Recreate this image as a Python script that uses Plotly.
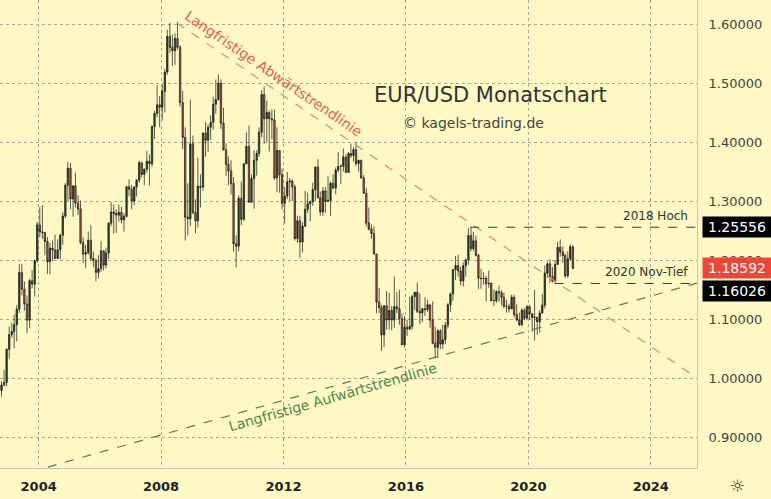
import plotly.graph_objects as go
import pandas as pd

# ---------------- data (monthly EUR/USD, Oct 2002 - Jun 2021) ----------------
start_month = "2002-10-01"
first_open = 0.9790

close = [
    0.9880, 0.9925, 1.0487,
    1.0735, 1.0790, 1.0905, 1.1165, 1.1790, 1.1505, 1.1255, 1.0980, 1.1650, 1.1590, 1.1990, 1.2595,
    1.2475, 1.2470, 1.2315, 1.1970, 1.2200, 1.2170, 1.2025, 1.2175, 1.2420, 1.2745, 1.3265, 1.3555,
    1.3035, 1.3255, 1.2965, 1.2865, 1.2295, 1.2100, 1.2125, 1.2335, 1.2025, 1.1990, 1.1790, 1.1850,
    1.2155, 1.1915, 1.2120, 1.2625, 1.2815, 1.2790, 1.2760, 1.2810, 1.2680, 1.2740, 1.3240, 1.3200,
    1.3000, 1.3240, 1.3355, 1.3650, 1.3450, 1.3540, 1.3675, 1.3630, 1.4265, 1.4485, 1.4630, 1.4590,
    1.4860, 1.5185, 1.5790, 1.5605, 1.5545, 1.5755, 1.5605, 1.4670, 1.4080, 1.2725, 1.2700, 1.3970,
    1.2805, 1.2665, 1.3250, 1.3235, 1.4150, 1.4030, 1.4250, 1.4335, 1.4640, 1.4720, 1.5000, 1.4320,
    1.3865, 1.3620, 1.3510, 1.3295, 1.2275, 1.2235, 1.3045, 1.2690, 1.3630, 1.3925, 1.2980, 1.3380,
    1.3690, 1.3805, 1.4165, 1.4805, 1.4395, 1.4500, 1.4395, 1.4375, 1.3390, 1.3855, 1.3445, 1.2960,
    1.3085, 1.3325, 1.3340, 1.3240, 1.2365, 1.2665, 1.2305, 1.2575, 1.2860, 1.2955, 1.2990, 1.3190,
    1.3575, 1.3055, 1.2815, 1.3170, 1.2995, 1.3010, 1.3300, 1.3220, 1.3525, 1.3585, 1.3590, 1.3745,
    1.3485, 1.3805, 1.3770, 1.3870, 1.3635, 1.3690, 1.3390, 1.3130, 1.2630, 1.2525, 1.2450, 1.2100,
    1.1290, 1.1195, 1.0730, 1.1225, 1.0985, 1.1145, 1.0985, 1.1210, 1.1175, 1.1005, 1.0565, 1.0860,
    1.0830, 1.0875, 1.1380, 1.1455, 1.1130, 1.1105, 1.1175, 1.1160, 1.1240, 1.0980, 1.0590, 1.0520,
    1.0800, 1.0575, 1.0650, 1.0895, 1.1240, 1.1425, 1.1840, 1.1905, 1.1815, 1.1645, 1.1905, 1.2005,
    1.2415, 1.2195, 1.2325, 1.2080, 1.1690, 1.1685, 1.1690, 1.1600, 1.1605, 1.1310, 1.1315, 1.1465,
    1.1445, 1.1370, 1.1215, 1.1215, 1.1170, 1.1370, 1.1075, 1.0985, 1.0900, 1.1150, 1.1015, 1.1210,
    1.1090, 1.1025, 1.1030, 1.0955, 1.1100, 1.1235, 1.1780, 1.1935, 1.1720, 1.1645, 1.1925, 1.2215,
    1.2135, 1.2075, 1.1730, 1.2020, 1.2225, 1.18592,
]
high = [
    0.9945, 1.0140, 1.0500,
    1.0875, 1.0935, 1.1080, 1.1240, 1.1930, 1.1935, 1.1640, 1.1400, 1.1680, 1.1830, 1.2005, 1.2645,
    1.2900, 1.2930, 1.2470, 1.2390, 1.2290, 1.2330, 1.2430, 1.2350, 1.2440, 1.2815, 1.3305, 1.3667,
    1.3645, 1.3270, 1.3480, 1.3095, 1.3010, 1.2390, 1.2260, 1.2480, 1.2590, 1.2140, 1.2030, 1.2080,
    1.2320, 1.2170, 1.2210, 1.2640, 1.2980, 1.2940, 1.2860, 1.2940, 1.2900, 1.2790, 1.3260, 1.3370,
    1.3270, 1.3240, 1.3370, 1.3680, 1.3650, 1.3550, 1.3850, 1.3790, 1.4280, 1.4530, 1.4965, 1.4780,
    1.4970, 1.5240, 1.5905, 1.6020, 1.5820, 1.5840, 1.6038, 1.5640, 1.4870, 1.4250, 1.3300, 1.4720,
    1.4110, 1.3030, 1.3740, 1.3450, 1.4170, 1.4340, 1.4300, 1.4450, 1.4770, 1.5060, 1.5145, 1.5060,
    1.4580, 1.3980, 1.3750, 1.3690, 1.3400, 1.2420, 1.3100, 1.3330, 1.3640, 1.4160, 1.4280, 1.3450,
    1.3860, 1.3860, 1.4250, 1.4880, 1.4940, 1.4700, 1.4530, 1.4550, 1.4550, 1.4250, 1.3860, 1.3550,
    1.3230, 1.3490, 1.3390, 1.3370, 1.3280, 1.2750, 1.2750, 1.2640, 1.3170, 1.3140, 1.3010, 1.3310,
    1.3590, 1.3710, 1.3160, 1.3240, 1.3240, 1.3420, 1.3330, 1.3450, 1.3570, 1.3830, 1.3620, 1.3890,
    1.3790, 1.3830, 1.3970, 1.3910, 1.3995, 1.3700, 1.3700, 1.3440, 1.3220, 1.2890, 1.2600, 1.2570,
    1.2110, 1.1530, 1.1240, 1.1210, 1.1470, 1.1440, 1.1220, 1.1715, 1.1460, 1.1500, 1.1100, 1.1050,
    1.0990, 1.1380, 1.1410, 1.1460, 1.1620, 1.1430, 1.1180, 1.1370, 1.1330, 1.1250, 1.1300, 1.0870,
    1.0830, 1.0830, 1.0900, 1.0950, 1.1270, 1.1450, 1.1850, 1.2070, 1.2090, 1.1880, 1.1960, 1.2020,
    1.2535, 1.25556, 1.2480, 1.2415, 1.2100, 1.1850, 1.1790, 1.1730, 1.1820, 1.1620, 1.1500, 1.1490,
    1.1570, 1.1490, 1.1450, 1.1320, 1.1260, 1.1410, 1.1410, 1.1250, 1.1110, 1.1180, 1.1180, 1.1240,
    1.1240, 1.1050, 1.1495, 1.1020, 1.1150, 1.1420, 1.1910, 1.1965, 1.2010, 1.1880, 1.2000, 1.2310,
    1.2350, 1.2240, 1.2110, 1.2150, 1.2265, 1.2250,
]
low = [
    0.9685, 0.9860, 0.9860,
    1.0330, 1.0685, 1.0500, 1.0620, 1.1100, 1.1400, 1.1140, 1.0760, 1.0845, 1.1520, 1.1380, 1.1950,
    1.2385, 1.2360, 1.2085, 1.1760, 1.1760, 1.1980, 1.2020, 1.2030, 1.2015, 1.2260, 1.2710, 1.3005,
    1.2860, 1.2730, 1.2890, 1.2760, 1.2265, 1.1950, 1.1870, 1.2090, 1.1990, 1.1880, 1.1640, 1.1690,
    1.1800, 1.1820, 1.1860, 1.2020, 1.2570, 1.2450, 1.2460, 1.2650, 1.2620, 1.2480, 1.2720, 1.3080,
    1.2860, 1.2930, 1.3080, 1.3310, 1.3400, 1.3270, 1.3480, 1.3260, 1.3580, 1.4050, 1.4420, 1.4250,
    1.4370, 1.4500, 1.5140, 1.5510, 1.5290, 1.5310, 1.5570, 1.4600, 1.3880, 1.2330, 1.2420, 1.2580,
    1.2770, 1.2455, 1.2550, 1.2890, 1.3170, 1.3750, 1.3830, 1.4040, 1.4210, 1.4480, 1.4700, 1.4220,
    1.3860, 1.3430, 1.3270, 1.3110, 1.2140, 1.1875, 1.2150, 1.2590, 1.2660, 1.3700, 1.2970, 1.3000,
    1.2870, 1.3430, 1.3750, 1.4080, 1.3970, 1.4000, 1.3840, 1.4050, 1.3360, 1.3150, 1.3140, 1.2860,
    1.2620, 1.3030, 1.3000, 1.3000, 1.2330, 1.2290, 1.2040, 1.2130, 1.2560, 1.2800, 1.2660, 1.2920,
    1.3000, 1.3040, 1.2750, 1.2750, 1.2800, 1.2980, 1.2750, 1.3200, 1.3110, 1.3480, 1.3290, 1.3500,
    1.3480, 1.3480, 1.3730, 1.3670, 1.3590, 1.3500, 1.3380, 1.3130, 1.2570, 1.2500, 1.2360, 1.2100,
    1.1100, 1.1100, 1.0460, 1.0520, 1.0820, 1.0820, 1.0810, 1.0850, 1.1100, 1.0900, 1.0560, 1.0520,
    1.0710, 1.0810, 1.0820, 1.1150, 1.1100, 1.0910, 1.0950, 1.1050, 1.1120, 1.0850, 1.0570, 1.0340,
    1.0340, 1.0490, 1.0490, 1.0570, 1.0840, 1.1120, 1.1310, 1.1660, 1.1720, 1.1570, 1.1550, 1.1720,
    1.1920, 1.2150, 1.2150, 1.2060, 1.1510, 1.1510, 1.1580, 1.1300, 1.1530, 1.1300, 1.1220, 1.1270,
    1.1290, 1.1230, 1.1180, 1.1110, 1.1110, 1.1180, 1.1030, 1.0960, 1.0880, 1.0880, 1.0980, 1.0980,
    1.0990, 1.0780, 1.0635, 1.0730, 1.0770, 1.1100, 1.1180, 1.1700, 1.1610, 1.1620, 1.16026, 1.1920,
    1.2060, 1.1950, 1.1700, 1.1700, 1.1990, 1.1845,
]
# forex monthly open = previous month's close
open_ = [first_open] + close[:-1]
dates = pd.date_range(start_month, periods=len(close), freq="MS") + pd.Timedelta(days=14)

# trend lines and levels
down_trend_x = ["2008-07-05", "2025-07-05"]
down_trend_y = [1.6020, 1.0000]
up_trend_x = ["2004-04-20", "2025-07-05"]
up_trend_y = [0.8490, 1.1610]
high_2018_x = ["2018-02-05", "2025-07-05"]
high_2018 = 1.25556
low_2020_x = ["2020-11-10", "2025-07-05"]
low_2020 = 1.16026
last_price = 1.18592

x_range = ["2002-09-27", "2025-07-05"]
y_range = [0.8475, 1.6407]
y_ticks = [0.9, 1.0, 1.1, 1.2, 1.3, 1.4, 1.5, 1.6]

BG = "#fdf8c4"
FONT = "DejaVu Sans"

fig = go.Figure()
fig.add_trace(go.Candlestick(
    x=dates, open=open_, high=high, low=low, close=close,
    increasing=dict(line=dict(color="#141414", width=0.7), fillcolor="#24502a"),
    decreasing=dict(line=dict(color="#141414", width=0.7), fillcolor="#c0584c"),
    whiskerwidth=0, showlegend=False, hoverinfo="skip",
))
fig.add_trace(go.Scatter(x=down_trend_x, y=down_trend_y, mode="lines",
                         line=dict(color="#e58473", width=1.2, dash="dash"),
                         showlegend=False, hoverinfo="skip"))
fig.add_trace(go.Scatter(x=up_trend_x, y=up_trend_y, mode="lines",
                         line=dict(color="#5c7f4e", width=1.2, dash="dash"),
                         showlegend=False, hoverinfo="skip"))
fig.add_trace(go.Scatter(x=high_2018_x, y=[high_2018, high_2018], mode="lines",
                         line=dict(color="#3a3a3a", width=1, dash="dash"),
                         showlegend=False, hoverinfo="skip"))
fig.add_trace(go.Scatter(x=low_2020_x, y=[low_2020, low_2020], mode="lines",
                         line=dict(color="#3a3a3a", width=1, dash="dash"),
                         showlegend=False, hoverinfo="skip"))

annotations = [
    dict(text="EUR/USD Monatschart", xref="paper", yref="paper", x=0.7044, y=0.797,
         xanchor="center", yanchor="middle",
         showarrow=False, font=dict(family=FONT, size=21, color="#333333")),
    dict(text="© kagels-trading.de", xref="paper", yref="paper", x=0.680, y=0.737,
         xanchor="center", yanchor="middle",
         showarrow=False, font=dict(family=FONT, size=14, color="#444444")),
    dict(text="Langfristige Abwärtstrendlinie", x="2011-09-09", y=1.515, textangle=34.3,
         xanchor="center", yanchor="middle",
         showarrow=False, font=dict(family=FONT, size=14, color="#e0624f")),
    dict(text="Langfristige Aufwärtstrendlinie", x="2013-08-15", y=0.968, textangle=-16,
         xanchor="center", yanchor="middle",
         showarrow=False, font=dict(family=FONT, size=14, color="#4f8a3f")),
    dict(text="2018 Hoch", xref="paper", x=0.99, y=high_2018, xanchor="right", yanchor="bottom",
         yshift=2, showarrow=False, font=dict(family=FONT, size=12, color="#333333")),
    dict(text="2020 Nov-Tief", xref="paper", x=0.99, y=low_2020, xanchor="right", yanchor="bottom",
         yshift=2, showarrow=False, font=dict(family=FONT, size=12, color="#333333")),
    dict(text=f"{high_2018:.5f}", xref="paper", x=1.0, y=high_2018, xanchor="left", xshift=5,
         showarrow=False, bgcolor="#000000", width=66, height=18, borderpad=1,
         font=dict(family=FONT, size=14, color="#ffffff")),
    dict(text=f"{last_price:.5f}", xref="paper", x=1.0, y=last_price, xanchor="left", xshift=5,
         showarrow=False, bgcolor="#f0463a", width=66, height=18, borderpad=1,
         font=dict(family=FONT, size=14, color="#ffffff")),
    dict(text=f"{low_2020:.5f}", xref="paper", x=1.0, y=low_2020, xanchor="left", xshift=5,
         yshift=-8, showarrow=False, bgcolor="#000000", width=66, height=18, borderpad=1,
         font=dict(family=FONT, size=14, color="#ffffff")),
    dict(text="☼", xref="paper", yref="paper", x=1.0588, y=-0.0385, showarrow=False,
         xanchor="center", yanchor="middle",
         font=dict(family=FONT, size=17, color="#333333")),
]

fig.update_layout(
    width=771, height=499,
    margin=dict(l=0, r=74, t=0, b=31),
    paper_bgcolor=BG, plot_bgcolor=BG,
    showlegend=False,
    boxgap=0.15,
    annotations=annotations,
    xaxis=dict(
        type="date", range=x_range, rangeslider=dict(visible=False),
        tick0="2004-01-01", dtick="M48", tickformat="%Y",
        showgrid=True, gridcolor="#aaa68e", griddash="dot", gridwidth=1,
        showline=True, linecolor="#cbc7ae", linewidth=1,
        ticks="", zeroline=False, ticklabelstandoff=6,
        tickfont=dict(family=FONT, size=13, color="#222222", weight="bold"),
    ),
    yaxis=dict(
        side="right", range=y_range, tickvals=y_ticks, tickformat=".5f",
        showgrid=True, gridcolor="#aaa68e", griddash="dot", gridwidth=1,
        showline=True, linecolor="#cbc7ae", linewidth=1,
        ticks="", zeroline=False, ticklabelstandoff=8,
        tickfont=dict(family=FONT, size=13, color="#444444"),
    ),
)

fig.write_html("out.html", config={"displayModeBar": False},
               post_script="document.body.style.margin='0';")
